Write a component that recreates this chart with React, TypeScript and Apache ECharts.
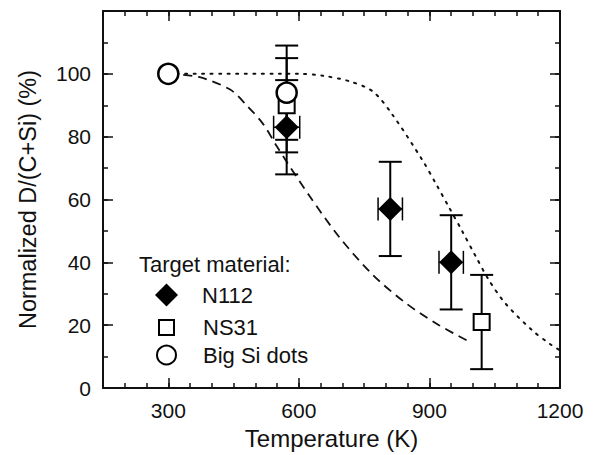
import React, { useEffect, useRef } from "react";
import * as echarts from "echarts";

const FONT = '"Liberation Sans", Arial, Helvetica, sans-serif';
const INK = "#111";

// Axis ticks / labels
const xMajorTicks = [300, 600, 900, 1200];
const yMajorTicks = [0, 20, 40, 60, 80, 100, 120];

// Data: [temperature K, normalized %]
const n112Points = [[572, 83], [810, 57], [950, 40]];
const n112YErr = [15, 15, 15];
const n112XErr = [30, 28, 28];

const ns31Points = [[572, 90], [1020, 21]];
const ns31YErr = [15, 15];
const ns31XErr = [0, 0];

const bigSiPoints = [[300, 100], [572, 94]];
const bigSiYErr = [0, 15];
const bigSiXErr = [0, 0];

// Model curves
const dashedCurve = [
  [300, 100], [370, 99], [442, 95], [480, 90], [518, 84], [549, 77], [572, 72],
  [625, 61], [693, 48], [770, 36], [846, 27], [922, 20], [995, 14.5],
];
const dottedCurve = [
  [300, 100], [600, 100], [655, 99.4], [717, 97.6], [770, 94.4], [815, 87],
  [884, 72.5], [915, 65], [945, 57.5], [975, 50], [1006, 42], [1036, 34.5],
  [1074, 27], [1135, 18.5], [1177, 14], [1200, 12],
];

function errRows(pts: number[][], ey: number[], ex: number[]) {
  return pts.map((p, i) => [p[0], p[1], ey[i], ex[i]]);
}

export default function App() {
  const ref = useRef<HTMLDivElement>(null);
  useEffect(() => {
    if (!ref.current) return;
    const chart = echarts.init(ref.current, undefined, { renderer: "svg" });

    const errData = [
      ...errRows(n112Points, n112YErr, n112XErr),
      ...errRows(ns31Points, ns31YErr, ns31XErr),
      ...errRows(bigSiPoints, bigSiYErr, bigSiXErr),
    ];

    const baseX = (pos: "bottom" | "top") => ({
      type: "value",
      position: pos,
      min: 150,
      max: 1200,
      interval: 50,
      splitLine: { show: false },
    });
    const baseY = (pos: "left" | "right") => ({
      type: "value",
      position: pos,
      min: 0,
      max: 120,
      interval: 10,
      splitLine: { show: false },
    });
    const lineSty = { show: true, onZero: false, lineStyle: { color: INK, width: 2 } };
    const noLine = { show: false, onZero: false };

    const legendCommon = {
      orient: "vertical",
      selectedMode: false,
      formatter: "{t|{name}}",
    };
    const rich = (pad: number) => ({
      rich: {
        t: { fontSize: 22, fontFamily: FONT, color: INK, padding: [0, 0, 0, pad] },
      },
    });

    chart.setOption({
      animation: false,
      textStyle: { fontFamily: FONT, color: INK },
      grid: { left: 103, right: 34, top: 11, bottom: 66 },
      title: {
        text: "Target material:",
        left: 139,
        top: 253,
        padding: 0,
        textStyle: { fontSize: 22, fontWeight: "normal", fontFamily: FONT, color: INK },
      },
      legend: [
        {
          ...legendCommon,
          data: ["N112"],
          left: 155,
          top: 283.5,
          itemWidth: 23,
          itemHeight: 23,
          padding: 0,
          itemStyle: { color: "#000", borderWidth: 0, opacity: 1 },
          textStyle: rich(19),
        },
        {
          ...legendCommon,
          data: ["NS31"],
          left: 158,
          top: 316.5,
          itemWidth: 15,
          itemHeight: 15,
          padding: 0,
          itemStyle: { color: "#fff", borderColor: "#000", borderWidth: 2, opacity: 1 },
          textStyle: rich(24),
        },
        {
          ...legendCommon,
          data: ["Big Si dots"],
          left: 156,
          top: 344,
          itemWidth: 19,
          itemHeight: 19,
          padding: 0,
          itemStyle: { color: "#fff", borderColor: "#000", borderWidth: 2, opacity: 1 },
          textStyle: rich(22),
        },
      ],
      xAxis: [
        {
          ...baseX("bottom"),
          axisLine: lineSty,
          axisTick: { show: true, inside: true, length: 5, lineStyle: { color: INK, width: 1.5 } },
          axisLabel: {
            show: true,
            margin: 12,
            fontSize: 21,
            color: INK,
            fontFamily: FONT,
            formatter: (v: number) => (xMajorTicks.includes(v) ? String(v) : ""),
          },
          name: "Temperature (K)",
          nameLocation: "middle",
          nameGap: 38,
          nameTextStyle: { fontSize: 24, color: INK, fontFamily: FONT },
        },
        {
          ...baseX("bottom"),
          axisLine: noLine,
          axisTick: { show: true, inside: true, length: 10, customValues: xMajorTicks, lineStyle: { color: INK, width: 1.5 } },
          axisLabel: { show: false },
        },
        {
          ...baseX("top"),
          axisLine: lineSty,
          axisTick: { show: true, inside: true, length: 5, lineStyle: { color: INK, width: 1.5 } },
          axisLabel: { show: false },
        },
        {
          ...baseX("top"),
          axisLine: noLine,
          axisTick: { show: true, inside: true, length: 10, customValues: xMajorTicks, lineStyle: { color: INK, width: 1.5 } },
          axisLabel: { show: false },
        },
      ],
      yAxis: [
        {
          ...baseY("left"),
          axisLine: lineSty,
          axisTick: { show: true, inside: true, length: 5, lineStyle: { color: INK, width: 1.5 } },
          axisLabel: {
            show: true,
            margin: 12,
            fontSize: 21,
            color: INK,
            fontFamily: FONT,
            formatter: (v: number) => (yMajorTicks.includes(v) && v <= 100 ? String(v) : ""),
          },
          name: "Normalized D/(C+Si) (%)",
          nameLocation: "middle",
          nameGap: 63,
          nameTextStyle: { fontSize: 23.5, color: INK, fontFamily: FONT },
        },
        {
          ...baseY("left"),
          axisLine: noLine,
          axisTick: { show: true, inside: true, length: 10, customValues: yMajorTicks, lineStyle: { color: INK, width: 1.5 } },
          axisLabel: { show: false },
        },
        {
          ...baseY("right"),
          axisLine: lineSty,
          axisTick: { show: true, inside: true, length: 5, lineStyle: { color: INK, width: 1.5 } },
          axisLabel: { show: false },
        },
        {
          ...baseY("right"),
          axisLine: noLine,
          axisTick: { show: true, inside: true, length: 10, customValues: yMajorTicks, lineStyle: { color: INK, width: 1.5 } },
          axisLabel: { show: false },
        },
      ],
      series: [
        {
          name: "dashed model",
          type: "line",
          data: dashedCurve,
          smooth: 0.3,
          symbol: "none",
          z: 2,
          lineStyle: { color: INK, width: 1.8, type: [9, 6] },
        },
        {
          name: "dotted model",
          type: "line",
          data: dottedCurve,
          smooth: 0.3,
          symbol: "none",
          z: 2,
          lineStyle: { color: INK, width: 2, type: [2, 6.5], cap: "round" },
        },
        {
          name: "error bars",
          type: "custom",
          z: 3,
          encode: { x: 0, y: 1 },
          data: errData,
          renderItem: (params: any, api: any) => {
            const x = api.value(0);
            const y = api.value(1);
            const ey = api.value(2);
            const ex = api.value(3);
            const style = { stroke: "#000", lineWidth: 2 };
            const children: any[] = [];
            const half = 11.5;
            if (ey > 0) {
              const t = api.coord([x, y + ey]);
              const b = api.coord([x, y - ey]);
              children.push({ type: "line", shape: { x1: t[0], y1: t[1], x2: b[0], y2: b[1] }, style });
              children.push({ type: "line", shape: { x1: t[0] - half, y1: t[1], x2: t[0] + half, y2: t[1] }, style });
              children.push({ type: "line", shape: { x1: b[0] - half, y1: b[1], x2: b[0] + half, y2: b[1] }, style });
            }
            if (ex > 0) {
              const l = api.coord([x - ex, y]);
              const r = api.coord([x + ex, y]);
              const s2 = { stroke: "#000", lineWidth: 1.5 };
              children.push({ type: "line", shape: { x1: l[0], y1: l[1], x2: r[0], y2: r[1] }, style: s2 });
              children.push({ type: "line", shape: { x1: l[0], y1: l[1] - half, x2: l[0], y2: l[1] + half }, style: s2 });
              children.push({ type: "line", shape: { x1: r[0], y1: r[1] - half, x2: r[0], y2: r[1] + half }, style: s2 });
            }
            return { type: "group", children };
          },
        },
        {
          name: "N112",
          type: "scatter",
          data: n112Points,
          symbol: "diamond",
          symbolSize: 24,
          z: 4,
          itemStyle: { color: "#000", opacity: 1 },
        },
        {
          name: "NS31",
          type: "scatter",
          data: ns31Points,
          symbol: "rect",
          symbolSize: 16,
          z: 5,
          itemStyle: { color: "#fff", borderColor: "#000", borderWidth: 2, opacity: 1 },
        },
        {
          name: "Big Si dots",
          type: "scatter",
          data: bigSiPoints,
          symbol: "circle",
          symbolSize: 20,
          z: 6,
          itemStyle: { color: "#fff", borderColor: "#000", borderWidth: 2.5, opacity: 1 },
        },
      ],
    });
    return () => chart.dispose();
  }, []);

  return (
    <div
      ref={ref}
      style={{ position: "fixed", left: 0, top: 0, width: 594, height: 455, background: "#fff" }}
    />
  );
}
